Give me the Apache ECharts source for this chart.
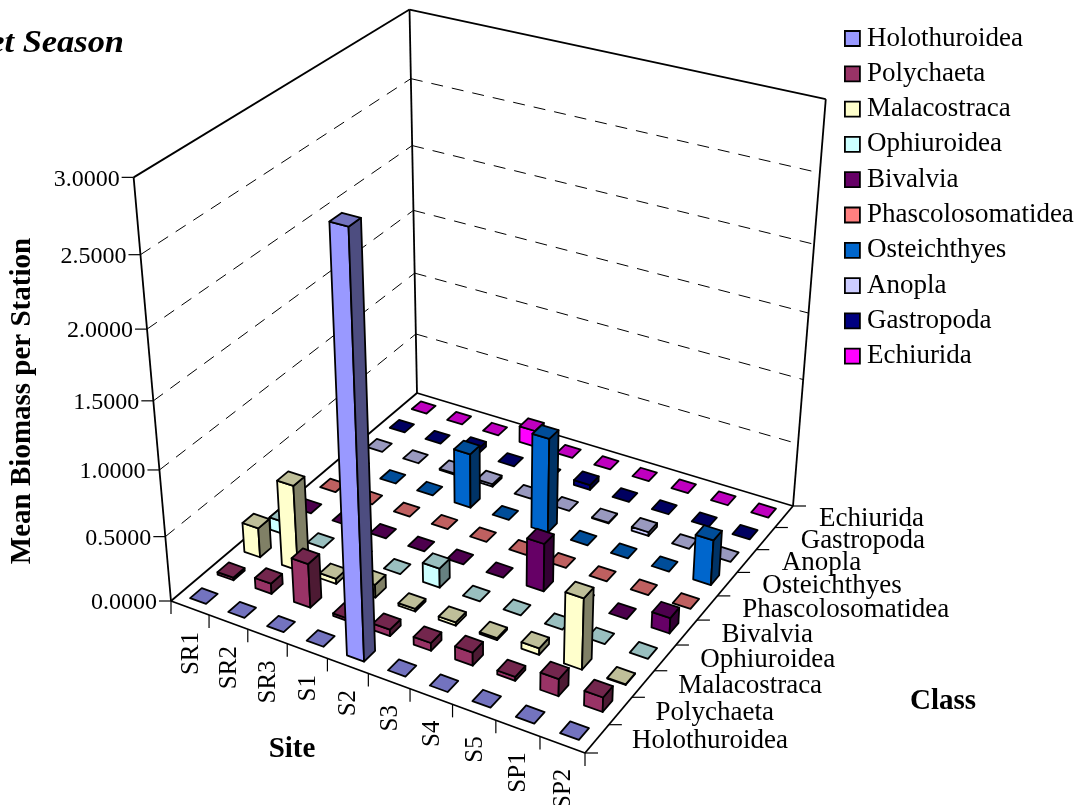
<!DOCTYPE html>
<html>
<head>
<meta charset="utf-8">
<style>html,body{margin:0;padding:0;background:#fff}#c{width:1079px;height:805px}</style>
<script src="https://cdn.jsdelivr.net/npm/echarts@6/dist/echarts.min.js"></script>
</head>
<body>
<div id="c"></div>
<script>
const sites = ['SR1','SR2','SR3','S1','S2','S3','S4','S5','SP1','SP2'];
const classes = ['Holothuroidea','Polychaeta','Malacostraca','Ophiuroidea','Bivalvia','Phascolosomatidea','Osteichthyes','Anopla','Gastropoda','Echiurida'];
const zTicks = [0,0.5,1,1.5,2,2.5,3];
const colors = ['#9999FF','#993366','#FFFFCC','#CCFFFF','#660066','#FF8080','#0066CC','#CCCCFF','#000080','#FF00FF'];

const holothuroidea     = [0,0,0,0,3.0,0,0,0,0,0];
const polychaeta        = [0.02,0.08,0.34,0.02,0.05,0.06,0.1,0.03,0.13,0.11];
const malacostraca      = [0.23,0.66,0.04,0.1,0.02,0.025,0.015,0.05,0.54,0.005];
const ophiuroidea       = [0.1,0,0,0,0.15,0,0,0,0,0];
const bivalvia          = [0,0,0,0,0,0,0.37,0,0,0.12];
const phascolosomatidea = [0,0,0,0,0,0,0,0,0,0];
const osteichthyes      = [0,0,0,0.43,0,0.74,0,0,0,0.35];
const anopla            = [0,0,0.01,0.02,0,0,0.005,0.03,0,0];
const gastropoda        = [0,0,0.04,0,0,0.04,0,0,0,0];
const echiurida         = [0,0,0,0.13,0,0,0,0,0,0];
const values = [holothuroidea,polychaeta,malacostraca,ophiuroidea,bivalvia,phascolosomatidea,osteichthyes,anopla,gastropoda,echiurida];

const FONT = '"Liberation Serif", serif';
const SIZE = 27;

// Projection of the box (u along Site, v along Class, z up) on the page
const floorA=[171,601], floorB=[585,753], floorC=[793,506], floorD=[417,393];
const topA=[134,178], topC=[826,98], topD=[409,10];
function solve(M,r){
  const n=r.length, a=M.map((row,i)=>row.concat(r[i]));
  for(let i=0;i<n;i++){
    let p=i; for(let j=i+1;j<n;j++) if(Math.abs(a[j][i])>Math.abs(a[p][i])) p=j;
    [a[i],a[p]]=[a[p],a[i]];
    for(let j=0;j<n;j++){ if(j===i) continue; const f=a[j][i]/a[i][i]; for(let k=i;k<=n;k++) a[j][k]-=f*a[i][k]; }
  }
  return a.map((row,i)=>row[n]/row[i]);
}
const uvs=[[0,0,floorA],[1,0,floorB],[1,1,floorC],[0,1,floorD]];
const hM=[],hR=[];
uvs.forEach(([u,v,p])=>{
  hM.push([u,v,1,0,0,0,-u*p[0],-v*p[0]]); hR.push(p[0]);
  hM.push([0,0,0,u,v,1,-u*p[1],-v*p[1]]); hR.push(p[1]);
});
const h=solve(hM,hR).concat([1]);
function floorH(u,v){return [h[0]*u+h[1]*v+h[2],h[3]*u+h[4]*v+h[5],h[6]*u+h[7]*v+h[8]];}
const zMax=zTicks[zTicks.length-1];
const zRows=[],zR=[];
[[0,0,topA],[1,1,topC],[0,1,topD]].forEach(([u,v,p])=>{
  const f=floorH(u,v);
  zRows.push([zMax,0,-zMax*p[0]]); zR.push(p[0]*f[2]-f[0]);
  zRows.push([0,zMax,-zMax*p[1]]); zR.push(p[1]*f[2]-f[1]);
});
const nM=[0,1,2].map(i=>[0,1,2].map(j=>zRows.reduce((s,r)=>s+r[i]*r[j],0)));
const nR=[0,1,2].map(i=>zRows.reduce((s,r,k)=>s+r[i]*zR[k],0));
const zv=solve(nM,nR);
function proj(u,v,z){
  const f=floorH(u,v), w=f[2]+zv[2]*z;
  return [(f[0]+zv[0]*z)/w,(f[1]+zv[1]*z)/w];
}
// Scale reading through the hidden category axes
function uvOf(api,s,c){
  const p=api.coord([s,c]);
  return [p[0]/api.getWidth(),1-p[1]/api.getHeight()];
}
function shade(hex,f){
  const n=parseInt(hex.slice(1),16);
  return 'rgb('+[n>>16&255,n>>8&255,n&255].map(x=>Math.round(x*f)).join(',')+')';
}
function poly(points,fill){
  return {type:'polygon',shape:{points},style:{fill,stroke:'#000',lineWidth:1.8,lineJoin:'round'}};
}
function seg(a,b,extra){
  return {type:'line',shape:{x1:a[0],y1:a[1],x2:b[0],y2:b[1]},style:Object.assign({stroke:'#000',lineWidth:1.8,fill:null},extra||{})};
}
function text(str,x,y,align,va,o){
  o=o||{};
  return {type:'text',x,y,rotation:o.rotation||0,scaleX:o.scaleX||1,style:{text:str,x:0,y:0,align,verticalAlign:va,fill:'#000',
    fontFamily:FONT,fontSize:o.size||SIZE,fontWeight:o.weight||'normal',fontStyle:o.fstyle||'normal'}};
}
const FOOT=0.42;
function renderBar(params,api){
  const s=api.value(0),c=api.value(1),val=api.value(2);
  const col=colors[c];
  const uv=uvOf(api,s,c), half=FOOT*0.1/2;
  const u0=uv[0]-half,u1=uv[0]+half,v0=uv[1]-half,v1=uv[1]+half;
  const a=proj(u0,v0,val),b=proj(u1,v0,val),e=proj(u1,v1,val),d=proj(u0,v1,val);
  const a0=proj(u0,v0,0),b0=proj(u1,v0,0),e0=proj(u1,v1,0);
  const kids=[];
  if(val>0){
    kids.push(poly([a0,b0,b,a],col));
    kids.push(poly([b0,e0,e,b],shade(col,0.5)));
  }
  kids.push(poly([a,b,e,d],shade(col,0.75)));
  return {type:'group',silent:true,children:kids};
}
function renderWalls(params,api){
  const z=api.value(2), kids=[];
  const l0=proj(0,0,z),l1=proj(0,1,z),l2=proj(1,1,z);
  if(z>0 && z<zMax){
    kids.push(seg(l0,l1,{lineWidth:1,lineDash:[12,9]}));
    kids.push(seg(l1,l2,{lineWidth:1,lineDash:[12,9]}));
  }
  kids.push(seg([l0[0]-12,l0[1]],l0,{lineWidth:1.2}));
  kids.push(text(z.toFixed(4),l0[0]-14,l0[1]+2,'right','middle',{size:24}));
  return {type:'group',silent:true,children:kids};
}
function renderFrame(){
  const A=proj(0,0,0),B=proj(1,0,0),C=proj(1,1,0),D=proj(0,1,0);
  const At=proj(0,0,zMax),Ct=proj(1,1,zMax),Dt=proj(0,1,zMax);
  return {type:'group',silent:true,children:[
    seg(A,B),seg(B,C),seg(C,D),seg(D,A),
    seg(A,At),seg(D,Dt),seg(C,Ct),seg(At,Dt),seg(Dt,Ct),
    seg(A,[A[0],A[1]+13],{lineWidth:1.2}),
    seg(B,[B[0],B[1]+13],{lineWidth:1.2})
  ]};
}
function renderSiteAxis(params,api){
  const s=api.value(0);
  const uv=uvOf(api,s,0), half=0.05;
  const mid=proj(uv[0],0,0), end=proj(uv[0]+half,0,0);
  const kids=[text(sites[s],mid[0]+1,mid[1]+24,'right','middle',{rotation:Math.PI/2,size:25})];
  if(s<sites.length-1) kids.push(seg(end,[end[0],end[1]+13],{lineWidth:1.2}));
  return {type:'group',silent:true,children:kids};
}
function renderClassAxis(params,api){
  const c=api.value(1);
  const uv=uvOf(api,0,c), half=0.05;
  const mid=proj(1,uv[1],0), end=proj(1,uv[1]+half,0);
  const kids=[text(classes[c],mid[0]+35,mid[1]+2,'left','middle')];
  kids.push(seg(end,[end[0]+13,end[1]],{lineWidth:1.2}));
  if(c===0){const st=proj(1,0,0); kids.push(seg(st,[st[0]+13,st[1]],{lineWidth:1.2}));}
  return {type:'group',silent:true,children:kids};
}
function renderTitles(){
  return {type:'group',silent:true,children:[
    text('Wet Season',124,44,'right','middle',{weight:'bold',fstyle:'italic',size:31,scaleX:1.11}),
    text('Mean Biomass per Station',23,401,'center','middle',{weight:'bold',size:29,rotation:Math.PI/2}),
    text('Site',292,750,'center','middle',{weight:'bold',size:29}),
    text('Class',943,702,'center','middle',{weight:'bold',size:29})
  ]};
}
const axisEncode={x:0,y:1};
const series=[
  {type:'custom',name:'walls',z:1,data:zTicks.map(z=>[0,0,z]),renderItem:renderWalls,encode:axisEncode,silent:true},
  {type:'custom',name:'frame',z:2,data:[[0,0,0]],renderItem:renderFrame,encode:axisEncode,silent:true},
  {type:'custom',name:'siteAxis',z:2,data:sites.map((_,i)=>[i,0,0]),renderItem:renderSiteAxis,encode:axisEncode,silent:true},
  {type:'custom',name:'classAxis',z:2,data:classes.map((_,i)=>[0,i,0]),renderItem:renderClassAxis,encode:axisEncode,silent:true},
  {type:'custom',name:'titles',z:2,data:[[0,0,0]],renderItem:renderTitles,encode:axisEncode,silent:true}
];
classes.forEach((name,c)=>{
  series.push({type:'custom',name,z:20-c,renderItem:renderBar,encode:axisEncode,silent:true,
    itemStyle:{color:colors[c]},
    data:values[c].map((v,s)=>[s,c,v])});
});
const chart=echarts.init(document.getElementById('c'),null,{renderer:'canvas'});
chart.setOption({
  animation:false,
  backgroundColor:'#fff',
  tooltip:{show:false},
  grid:{left:0,right:0,top:0,bottom:0},
  xAxis:{type:'category',data:sites,show:false},
  yAxis:{type:'category',data:classes,show:false},
  legend:{
    data:classes,orient:'vertical',left:844,top:25,padding:0,itemWidth:15,itemHeight:15,itemGap:8.3,
    icon:'rect',selectedMode:false,
    itemStyle:{borderColor:'#000',borderWidth:1.8},
    textStyle:{fontFamily:FONT,fontSize:SIZE,lineHeight:24,color:'#000',padding:[0,0,0,2]}
  },
  series
});
</script>
</body>
</html>
